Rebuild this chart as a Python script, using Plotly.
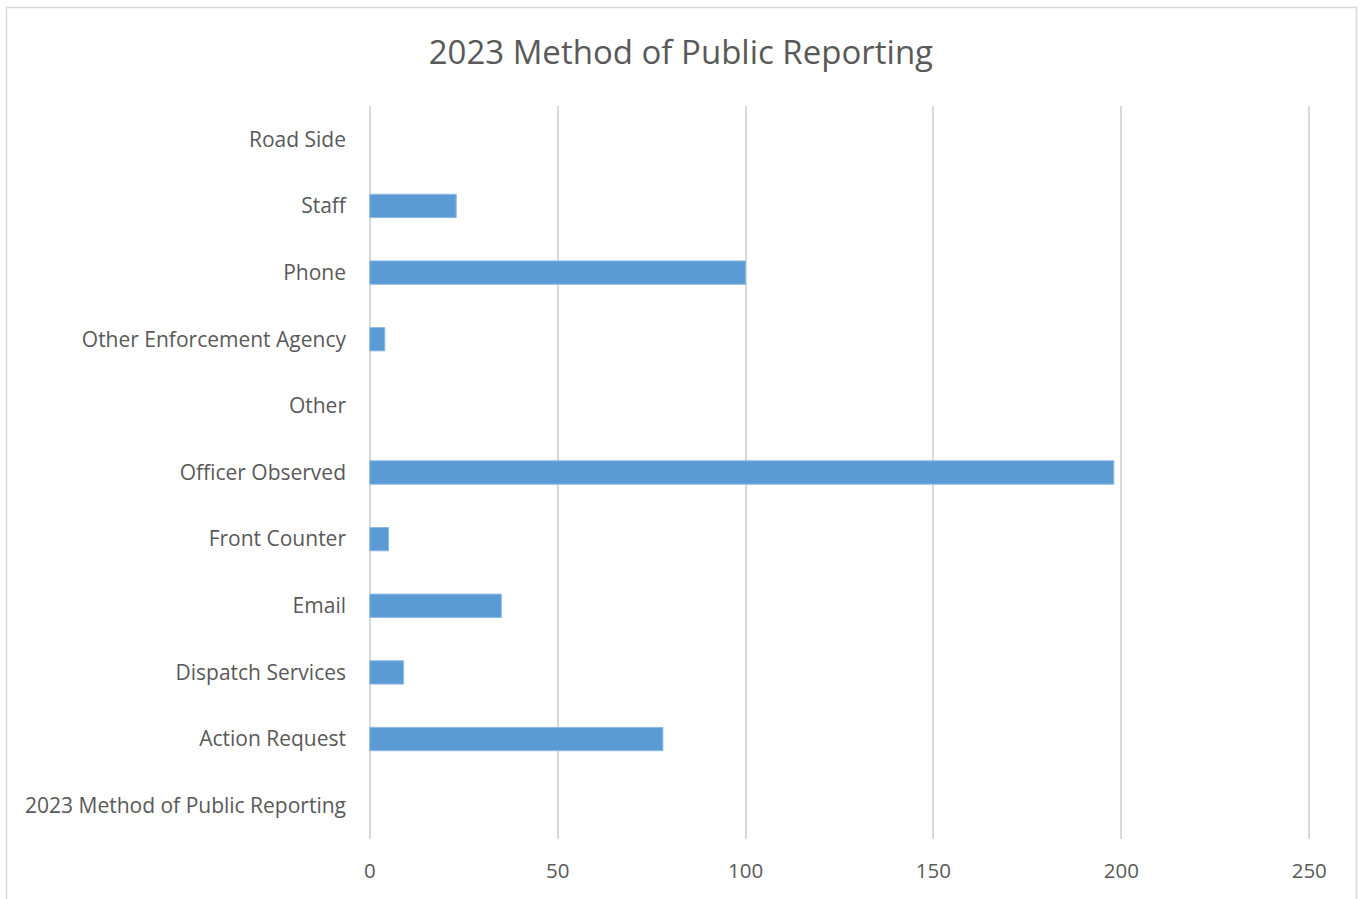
import plotly.graph_objects as go

# Reporting methods, listed bottom-to-top as they appear on the axis
categories = [
    "2023 Method of Public Reporting",
    "Action Request",
    "Dispatch Services",
    "Email",
    "Front Counter",
    "Officer Observed",
    "Other",
    "Other Enforcement Agency",
    "Phone",
    "Staff",
    "Road Side",
]
counts = [None, 78, 9, 35, 5, 198, None, 4, 100, 23, None]
x_ticks = [0, 50, 100, 150, 200, 250]

W, H = 1359, 899
L, R, T, B = 366, 46, 106, 60
FONT = "Open Sans, Calibri, sans-serif"

fig = go.Figure(
    go.Bar(
        y=categories,
        x=counts,
        orientation="h",
        marker=dict(color="#5B9BD5", line=dict(color="#8DB9E3", width=1)),
        width=0.35,
        hoverinfo="x+y",
    )
)

# outer chart frame (paper coordinates derived from pixel edges)
pw, ph = W - L - R, H - T - B
def px_x(x):
    return (x - L) / pw
def px_y(y):
    return (H - B - y) / ph

fig.add_shape(
    type="rect", xref="paper", yref="paper",
    x0=px_x(6.5), x1=px_x(1356.5), y0=px_y(910), y1=px_y(7.5),
    line=dict(color="#D9D9D9", width=1.5), fillcolor="rgba(0,0,0,0)",
    layer="below",
)

fig.update_layout(
    width=W, height=H,
    margin=dict(l=L, r=R, t=T, b=B, pad=0),
    paper_bgcolor="white", plot_bgcolor="white",
    showlegend=False,
    title=dict(
        text="2023 Method of Public Reporting",
        x=0.501, xref="container", xanchor="center",
        y=1 - 52 / H, yanchor="middle",
        font=dict(family=FONT, size=33, color="#595959"),
    ),
    font=dict(family=FONT, color="#595959"),
    xaxis=dict(
        range=[-1, 251],
        tickvals=x_ticks,
        showgrid=True, gridcolor="#D9D9D9", gridwidth=1.5,
        zeroline=False, showline=False,
        ticks="", ticklabelstandoff=17,
        tickfont=dict(family=FONT, size=20.5, color="#595959"),
        fixedrange=True,
    ),
    yaxis=dict(
        categoryorder="array", categoryarray=categories,
        range=[-0.5, len(categories) - 0.5],
        showgrid=False, zeroline=False, showline=False,
        ticks="", ticklabelstandoff=19,
        tickfont=dict(family=FONT, size=21, color="#595959"),
        fixedrange=True,
    ),
    bargap=0.65,
)

fig.write_html("out.html")
